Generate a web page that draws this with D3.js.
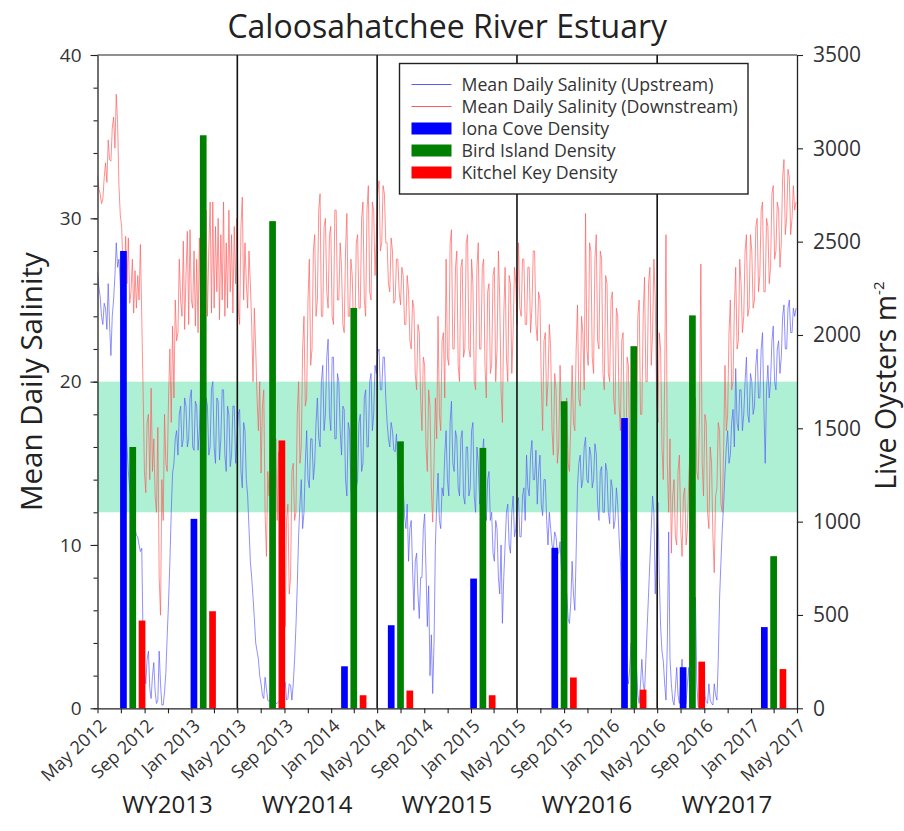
<!DOCTYPE html>
<html>
<head>
<meta charset="utf-8">
<script src="https://cdn.jsdelivr.net/npm/d3@7"></script>
<style>
  body { margin: 0; background: #fff; }
  text { font-family: "Open Sans", Lato, "DejaVu Sans", sans-serif; }
</style>
</head>
<body>
<svg id="chart" width="904" height="831"></svg>
<script>
// ---- Data -------------------------------------------------------------
// Mean daily salinity sampled twice a week (every 3.5 days) from 1 May 2012.
const seriesStart = "2012-05-01";

const downstream = [
  // WY2013
  32.6, 31.8, 31.5, 30.9, 31.2, 32.5, 33.4, 32.2,
  34.8, 33.6, 33.5, 35.5, 36.2, 34.3, 37.6, 35.8,
  32, 30.2, 29.5, 27, 25.5, 28.9, 26, 28.8, 24.8, 25.5,
  27.5, 24.2, 26.8, 24.5, 26.5, 25, 28.4, 24,
  19.5, 14.5, 13.2, 17.5, 18, 14, 19.6, 14.5,
  16.5, 13, 12, 17.2, 8, 5.7, 14, 11.5, 18, 15,
  14.5, 19, 22, 17.5, 23.4, 19, 25, 22.5,
  23, 27.5, 25, 24, 28.6, 23.2, 26.5, 29.2,
  23.5, 29.3, 25, 24.5, 28, 23.4, 27.5, 23, 28.8, 24.5,
  29.5, 23, 21, 30.5, 24, 28, 31, 24.2,
  31, 24.5, 29.5, 25.5, 30, 23.8, 29, 25,
  31, 24, 28.5, 24.5, 30.5, 25.5, 29, 24.2, 29.5, 26,
  // WY2014
  30, 24.5, 23.5, 29.5, 31.3, 25, 28.5, 26,
  24.5, 28, 26, 23.5, 20, 24.5, 22, 19,
  17, 20, 14.4, 18.5, 19.5, 12, 9.3, 14.5, 13, 16.5,
  16, 11.5, 13, 16.5, 11.5, 15.7, 12, 14.6,
  14, 10, 5, 11.5, 12.5, 7, 8, 14.5,
  15, 11.5, 12, 18, 20, 15, 16, 22, 24, 18.5,
  19, 25, 27.5, 21, 22, 28, 29, 24,
  25, 30.5, 31.5, 24, 24, 29.5, 30, 25.5,
  24.5, 29, 29.5, 24, 23.5, 30.5, 30.5, 25, 25, 28.5,
  27, 23.5, 23, 28, 30.3, 24, 24, 27.5,
  26.5, 23, 23, 28.5, 29, 24.5, 24.5, 30,
  31, 25, 24, 30.5, 32, 25.5, 25, 31, 30.5, 26.5,
  // WY2015
  29, 31.5, 32.3, 28, 28.5, 32, 31.5, 28.5,
  28.5, 26, 25.5, 28.8, 28, 24.8, 25, 27.5,
  27.5, 25.5, 24.7, 27, 26.5, 23.5, 23.5, 26.5, 25.5, 22.5,
  22, 25, 24.5, 20.5, 19.5, 23.5, 23, 19,
  17, 21.5, 21, 16, 14.5, 19.5, 18.5, 13.5,
  11.4, 15, 19, 16.5, 24, 18, 17, 22.5, 23, 19,
  27.5, 21.5, 21, 28.5, 29.3, 22, 22, 27,
  28, 21, 20, 27, 27.5, 21.5, 22, 28.5,
  29, 22, 21.5, 27.5, 26, 20, 19.5, 27, 28.5, 22,
  22, 27, 27.5, 21, 19, 25.5, 26, 20.5,
  21, 26.5, 27, 20, 22, 28, 25, 19.5,
  17.5, 24, 27, 21.5, 20, 26.5, 26, 20.5, 23, 27,
  // WY2016
  26, 23.5, 28.5, 24.5, 24, 27.5, 27.5, 23.5,
  23.5, 27, 27, 23, 24.5, 28, 28, 23.5,
  22.5, 25.5, 25, 20, 17, 22.5, 23, 18.5, 20, 23.5,
  22, 17, 15.5, 20.5, 19.5, 15, 16, 21,
  18, 14, 13.1, 18.5, 19, 15, 14.5, 17.5,
  21, 17.5, 17, 22, 24.7, 19, 18.5, 24, 23, 19.5,
  30.3, 22, 21, 28.5, 28, 21.5, 20.5, 27.5,
  29, 22.5, 22, 28, 27.5, 20.5, 19.5, 26.5,
  26, 20.5, 20, 25, 25.5, 19, 18, 24.5, 24, 18.5,
  17, 22.5, 23, 16, 14, 21.5, 21, 15,
  11.5, 18, 19.5, 14, 16, 24, 25, 18,
  18, 24, 26.4, 20, 20, 26, 27, 21, 23, 27.5,
  // WY2017
  25, 19, 17.5, 23, 22, 16, 14, 20,
  29, 15, 12, 16.5, 9.5, 13, 14, 10.5,
  10, 14.5, 15.5, 11, 9.3, 13, 13.5, 10, 11, 14,
  16, 12, 12.5, 17.5, 19, 14.5, 14, 18,
  27.2, 15, 13, 18, 17.5, 12, 11, 16,
  15, 10.5, 8.3, 13, 13.5, 17.5, 17, 12.5, 12, 16,
  21, 17, 18, 23, 25, 19.5, 20, 24.5,
  27, 22, 22.5, 27.5, 26, 23, 24, 28,
  29, 24, 24.5, 29, 28, 24.5, 25, 29.5, 30, 25.5,
  26.5, 30.5, 31, 25.5, 25.5, 30, 29.5, 26,
  27, 31.5, 32, 27.5, 28, 31, 30.5, 27,
  28.5, 32.5, 33.6, 29, 30, 33, 32.5, 29, 30, 32,
  30.5, 31
];

const upstream = [
  // WY2013
  26.7, 25.8, 25.2, 24, 23.5, 24.8, 24.5, 23.2,
  26, 23.5, 21.6, 24, 25, 26.5, 28.5, 27,
  27.5, 26, 24, 22, 20, 18, 16, 14.5, 13.5, 12.9,
  12.8, 11.8, 11, 10.6, 10.5, 10, 9.6, 9.8,
  4.2, 2.5, 1.5, 3, 3.5, 1.2, 0.6, 2,
  2.8, 1, 0.3, 0.5, 3.5, 1.5, 0.2, 0.2, 1, 2.2,
  4.5, 6.5, 9, 12, 14.4, 15, 16.5, 17,
  15.5, 18, 18.5, 16, 16.5, 19, 18.5, 16,
  16.5, 19, 19.5, 16, 15.8, 18.8, 18.5, 15.8, 17, 19.5,
  19.8, 16.5, 15.5, 19, 18.5, 15.5, 16, 19.5,
  20, 16, 15, 19, 18.8, 15.2, 16.5, 19.5,
  19.5, 15.5, 14.5, 18.5, 18, 14.8, 15.5, 18.5, 18.5, 15,
  // WY2014
  16.5, 18, 18.3, 14.5, 13.5, 17.5, 17, 14,
  13, 11, 9, 8, 6.8, 5.5, 4, 3.5,
  3, 2, 1.5, 0.8, 0.6, 1.9, 1.2, 0.5, 0.4, 0.6,
  0.3, 0.4, 0.5, 0.3, 0.3, 0.4, 0.4, 0.3,
  0.4, 1.2, 1.6, 0.5, 0.6, 1.5, 1.4, 0.5,
  1.5, 3, 5, 7.5, 10.6, 12.5, 14, 11, 12, 15,
  17, 14, 13.5, 16.5, 16.5, 14, 15, 17.5,
  19, 16.5, 16, 20, 21, 17, 18, 21.5,
  22.6, 18, 17, 21.5, 21.5, 16.5, 16.5, 20.5, 20, 17,
  15.5, 18.5, 18.3, 14, 13, 17.5, 17, 13.5,
  12.6, 16, 16.5, 13.5, 14, 17.5, 18, 14.5,
  15, 19, 19.5, 16, 16, 20, 20.5, 17, 18, 21,
  // WY2015
  20.5, 21.8, 22, 19.5, 19.5, 21.5, 21.5, 19,
  17.5, 16.5, 16, 17.5, 17, 15.8, 15.7, 16.8,
  14.5, 13, 12.5, 14, 13.5, 11.8, 11, 12.5, 9, 11,
  11.5, 8.5, 6, 9, 9.5, 7, 5.5, 8,
  8, 11, 11.9, 8.5, 5, 7.5, 2, 4.5,
  0.9, 4, 10, 12.5, 14.4, 11.5, 11, 13.5, 13, 15.5,
  17, 14, 13, 17.5, 18.8, 15, 14.5, 17,
  16.5, 13.5, 13, 16.5, 17, 13, 12.5, 16,
  16, 13, 13.5, 17, 17.5, 13, 12, 16, 15, 12.5,
  13, 15.5, 16.5, 12.5, 11.5, 14, 14.5, 11.5,
  12, 9.5, 9, 11.5, 11, 8, 7, 10,
  5.2, 8, 10, 12, 12.5, 10, 9.5, 12, 13, 10.5,
  // WY2016
  11, 12.5, 12.9, 10.5, 10.5, 13, 13.5, 11.5,
  15.5, 13.5, 13, 15.5, 16.4, 14, 14, 15.8,
  12.5, 14.5, 15.5, 12.5, 11.8, 14, 14, 11.5, 10, 12,
  11, 10, 9.7, 10.8, 10.5, 9.5, 9.5, 10.2,
  8.5, 7, 5.5, 7.5, 7, 5.5, 5.2, 6.5,
  9, 7, 6, 9.5, 13.6, 15, 15.5, 13.5, 14, 16,
  16.6, 14, 13.8, 16, 15.5, 13.5, 14, 16.2,
  15.6, 12.5, 11.5, 14.5, 14.8, 12, 12, 15,
  14.5, 12, 11.3, 14, 13.5, 11, 11.5, 13.5, 12.5, 10.5,
  9, 7, 5.5, 4, 3, 2, 1.5, 2.5,
  4, 1.5, 0.5, 2, 2.5, 0.8, 0.3, 1.5,
  3, 1.5, 1, 3, 5, 7, 9, 11, 13, 12,
  // WY2017
  7, 10, 12.6, 8, 5, 3.5, 2.9, 1.5,
  0.5, 4, 10.8, 3, 1.5, 0.5, 0.2, 1.2,
  2.5, 0.8, 0.3, 1.8, 3, 1, 0.5, 0.3, 1.5, 2.5,
  0.1, 0.2, 0.2, 0.1, 6.8, 1.5, 0.1, 0.1,
  0.3, 1.5, 2.8, 0.8, 0.4, 0.3, 1.5, 0.5,
  0.3, 0.2, 1.5, 0.8, 0.5, 3, 6.8, 9, 11, 12.5,
  14.4, 16, 17, 15, 15.5, 17.5, 18.3, 16,
  20.8, 17.5, 17, 19.5, 19.5, 17, 18, 20,
  21.5, 18, 17.5, 20.5, 20, 18, 18.5, 21, 22, 19,
  19, 22, 23, 18.5, 15, 19.5, 21, 19,
  20, 22.5, 23.4, 20, 19.5, 22, 22.5, 20.5,
  21.5, 24, 24.7, 22, 22, 24.5, 25, 23, 23, 24.5,
  24, 24.5
];

// Oyster survey dates and live oyster densities (per m²)
const sampleDates = ["2012-08-01", "2013-02-01", "2013-08-01", "2014-03-01", "2014-07-01",
                     "2015-02-01", "2015-09-01", "2016-03-01", "2016-08-01", "2017-03-01"];
const ionaCove    = [2450, 1015,    0,  225,  445,  695,  860, 1555,  220,  435];
const birdIsland  = [1400, 3070, 2610, 2145, 1430, 1395, 1645, 1940, 2105,  815];
const kitchelKey  = [ 470,  520, 1435,   70,   95,   70,  165,  100,  250,  210];

const waterYears = ["WY2013", "WY2014", "WY2015", "WY2016", "WY2017"];
const wyStarts   = ["2012-05-01", "2013-05-01", "2014-05-01", "2015-05-01", "2016-05-01", "2017-05-01"];
const salinityTicks = [0, 10, 20, 30, 40];
const oysterTicks   = [0, 500, 1000, 1500, 2000, 2500, 3000, 3500];
const optimalBand   = [12, 20];

// ---- Layout -----------------------------------------------------------
const parse = d3.timeParse("%Y-%m-%d");
const plot = { left: 97.5, right: 797, top: 55, bottom: 708.3 };

const svg = d3.select("#chart");

const x = d3.scaleTime()
  .domain([parse(wyStarts[0]), parse(wyStarts[wyStarts.length - 1])])
  .range([plot.left, plot.right]);
const ySal = d3.scaleLinear().domain([0, 40]).range([plot.bottom, plot.top]);
const yOys = d3.scaleLinear().domain([0, 3500]).range([plot.bottom, plot.top]);

const start = parse(seriesStart);
const sampled = vals => vals.map((v, i) => ({ date: d3.timeHour.offset(start, 84 * i), v }));

svg.append("defs").append("clipPath").attr("id", "plotClip")
  .append("rect")
  .attr("x", plot.left).attr("y", plot.top)
  .attr("width", plot.right - plot.left).attr("height", plot.bottom - plot.top);

// Target salinity band
svg.append("rect")
  .attr("x", plot.left)
  .attr("width", plot.right - plot.left)
  .attr("y", ySal(optimalBand[1]))
  .attr("height", ySal(optimalBand[0]) - ySal(optimalBand[1]))
  .attr("fill", "#adf0d4");

// Salinity lines
const upColor = "#5a5aff", downColor = "#ff5a5a";
const line = d3.line().x(d => x(d.date)).y(d => ySal(d.v));
const lines = svg.append("g").attr("clip-path", "url(#plotClip)");
lines.append("path").datum(sampled(upstream))
  .attr("d", line).attr("fill", "none")
  .attr("stroke", upColor).attr("stroke-width", 0.8).attr("stroke-opacity", 0.85);
lines.append("path").datum(sampled(downstream))
  .attr("d", line).attr("fill", "none")
  .attr("stroke", downColor).attr("stroke-width", 0.8).attr("stroke-opacity", 0.85);

// Oyster density bars: three sites side by side around each survey date
const barW = 6.7, barStep = 9.3;
const sites = [
  { name: "Iona Cove Density",   values: ionaCove,   color: "#0000ff", off: -1 },
  { name: "Bird Island Density", values: birdIsland, color: "#008000", off: 0 },
  { name: "Kitchel Key Density", values: kitchelKey, color: "#ff0000", off: 1 }
];
const bars = svg.append("g");
sites.forEach(s => {
  bars.selectAll(null)
    .data(sampleDates.map((d, i) => ({ date: parse(d), v: s.values[i] })))
    .join("rect")
    .attr("x", d => x(d.date) + s.off * barStep - barW / 2)
    .attr("width", barW)
    .attr("y", d => yOys(d.v))
    .attr("height", d => yOys(0) - yOys(d.v))
    .attr("fill", s.color);
});

// Water-year divisions
svg.append("g").selectAll("line")
  .data(wyStarts.slice(1, -1))
  .join("line")
  .attr("x1", d => x(parse(d))).attr("x2", d => x(parse(d)))
  .attr("y1", plot.top).attr("y2", plot.bottom)
  .attr("stroke", "#111").attr("stroke-width", 1.6);

// ---- Axes -------------------------------------------------------------
const axisColor = "#222";
const labelColor = "#333";

// Top frame
svg.append("line")
  .attr("x1", plot.left).attr("x2", plot.right)
  .attr("y1", plot.top).attr("y2", plot.top)
  .attr("stroke", axisColor).attr("stroke-width", 1.2);

// Left salinity axis: minor ticks every 2, labelled majors every 10
const leftMinor = svg.append("g").attr("transform", `translate(${plot.left},0)`)
  .call(d3.axisLeft(ySal).tickValues(d3.range(0, 41, 2)).tickSize(4).tickFormat(""));
leftMinor.select(".domain").remove();
const leftAxis = svg.append("g").attr("transform", `translate(${plot.left},0)`)
  .call(d3.axisLeft(ySal).tickValues(salinityTicks).tickSize(7).tickSizeOuter(0).tickPadding(9));
leftAxis.selectAll("text").attr("font-size", 19).attr("fill", labelColor);

// Right oyster axis
const rightAxis = svg.append("g").attr("transform", `translate(${plot.right},0)`)
  .call(d3.axisRight(yOys).tickValues(oysterTicks).tickFormat(d3.format("d"))
    .tickSize(6).tickSizeOuter(0).tickPadding(10));
rightAxis.selectAll("text").attr("font-size", 21).attr("fill", labelColor);

// Bottom time axis: ticks every two months, labels every four
const bottomAxis = svg.append("g").attr("transform", `translate(0,${plot.bottom})`)
  .call(d3.axisBottom(x).ticks(d3.timeMonth.every(2)).tickSize(5).tickSizeOuter(0)
    .tickFormat(d => d.getMonth() % 4 === 0 ? d3.timeFormat("%b %Y")(d) : ""));
bottomAxis.selectAll("text")
  .attr("font-size", 18).attr("fill", labelColor)
  .attr("text-anchor", "end")
  .attr("dx", 0).attr("dy", 0)
  .attr("transform", "translate(4,13) rotate(-43)");

[leftMinor, leftAxis, rightAxis, bottomAxis].forEach(g => {
  g.selectAll("line").attr("stroke", axisColor).attr("stroke-width", 1.1);
  g.selectAll(".domain").attr("stroke", axisColor).attr("stroke-width", 1.3);
});

// Water-year labels
svg.append("g").selectAll("text")
  .data(waterYears)
  .join("text")
  .attr("x", (d, i) => (x(parse(wyStarts[i])) + x(parse(wyStarts[i + 1]))) / 2)
  .attr("y", 813)
  .attr("text-anchor", "middle")
  .attr("font-size", 24)
  .attr("fill", "#222")
  .text(d => d);

// Titles
svg.append("text")
  .attr("x", (plot.left + plot.right) / 2).attr("y", 38)
  .attr("text-anchor", "middle").attr("font-size", 32).attr("fill", "#222")
  .text("Caloosahatchee River Estuary");

svg.append("text")
  .attr("transform", `translate(42,${(plot.top + plot.bottom) / 2}) rotate(-90)`)
  .attr("text-anchor", "middle").attr("font-size", 29.5).attr("fill", "#222")
  .text("Mean Daily Salinity");

const rt = svg.append("text")
  .attr("transform", `translate(896,${(plot.top + plot.bottom) / 2 + 4}) rotate(-90)`)
  .attr("text-anchor", "middle").attr("font-size", 28.5).attr("fill", "#222");
rt.append("tspan").text("Live Oysters m");
rt.append("tspan").attr("font-size", 15).attr("dy", -12).text("-2");

// ---- Legend -----------------------------------------------------------
const legend = svg.append("g").attr("transform", "translate(399.5,63.5)");
legend.append("rect")
  .attr("width", 348.5).attr("height", 130.5)
  .attr("fill", "#fff").attr("stroke", "#222").attr("stroke-width", 1.4);

const legendItems = [
  { label: "Mean Daily Salinity (Upstream)",   color: upColor,   kind: "line" },
  { label: "Mean Daily Salinity (Downstream)", color: downColor, kind: "line" },
  ...sites.map(s => ({ label: s.name, color: s.color, kind: "bar" }))
];
const li = legend.selectAll("g.item").data(legendItems).join("g")
  .attr("class", "item")
  .attr("transform", (d, i) => `translate(0,${21 + i * 22})`);
li.filter(d => d.kind === "line").append("line")
  .attr("x1", 12).attr("x2", 52).attr("y1", 0).attr("y2", 0)
  .attr("stroke", d => d.color).attr("stroke-width", 1);
li.filter(d => d.kind === "bar").append("rect")
  .attr("x", 12).attr("width", 40).attr("y", -6).attr("height", 12)
  .attr("fill", d => d.color);
li.append("text")
  .attr("x", 62).attr("y", 0).attr("dy", "0.35em")
  .attr("font-size", 17.7).attr("fill", "#333")
  .text(d => d.label);
</script>
</body>
</html>
